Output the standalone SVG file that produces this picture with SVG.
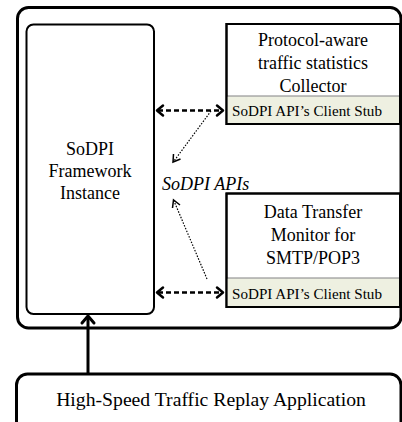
<svg xmlns="http://www.w3.org/2000/svg" width="402" height="422" viewBox="0 0 402 422">
<defs>
<style>
.t{font-family:"Liberation Serif","Times New Roman",serif;font-size:18px;fill:#000;text-anchor:middle}
.s{font-family:"Liberation Serif","Times New Roman",serif;font-size:15px;fill:#000}
.box{fill:#fff;stroke:#000;stroke-width:2}
.stub{fill:#eef0e1;stroke:none}
.div{stroke:#000;stroke-width:1;stroke-dasharray:1,1;fill:none}
.dash{stroke:#000;stroke-width:2.5;stroke-dasharray:5,3;fill:none}
.dot{stroke:#000;stroke-width:1.2;stroke-dasharray:1.5,1.5;fill:none}
.head{stroke:#000;stroke-width:2.5;fill:none;stroke-linecap:round;stroke-linejoin:round}
.shead{stroke:#000;stroke-width:1.5;fill:none}
</style>
</defs>
<rect width="402" height="422" fill="#fff"/>
<g id="outer">
<rect x="17.5" y="7.5" width="383.5" height="320.5" rx="11" fill="none" stroke="#000" stroke-width="3"/>
</g>
<g id="framework">
<rect x="26.5" y="24.5" width="127.5" height="289.5" rx="7" fill="#fff" stroke="#000" stroke-width="2"/>
<text class="t" x="90" y="155">SoDPI</text>
<text class="t" x="90" y="177">Framework</text>
<text class="t" x="90" y="199">Instance</text>
</g>
<g id="collector">
<rect class="box" x="226.5" y="24" width="173.5" height="100"/>
<rect class="stub" x="227.5" y="96.5" width="171.5" height="26.5"/>
<line class="div" x1="227.5" y1="96" x2="399" y2="96"/>
<rect fill="none" stroke="#000" stroke-width="2" x="226.5" y="24" width="173.5" height="100"/>
<text class="t" x="313" y="46">Protocol-aware</text>
<text class="t" x="313" y="69">traffic statistics</text>
<text class="t" x="313" y="92">Collector</text>
<text class="s" x="232" y="115.5" textLength="150" lengthAdjust="spacingAndGlyphs">SoDPI API’s Client Stub</text>
</g>
<g id="monitor">
<rect class="box" x="226.5" y="193.5" width="173.5" height="113.5"/>
<rect class="stub" x="227.5" y="278.5" width="171.5" height="27.5"/>
<line class="div" x1="227.5" y1="278" x2="399" y2="278"/>
<rect fill="none" stroke="#000" stroke-width="2" x="226.5" y="193.5" width="173.5" height="113.5"/>
<text class="t" x="313" y="218">Data Transfer</text>
<text class="t" x="313" y="241">Monitor for</text>
<text class="t" x="313" y="264">SMTP/POP3</text>
<text class="s" x="232" y="298.5" textLength="150" lengthAdjust="spacingAndGlyphs">SoDPI API’s Client Stub</text>
</g>
<g id="replay">
<rect x="16.5" y="374" width="384.5" height="60" rx="11" fill="#fff" stroke="#000" stroke-width="3"/>
<text class="t" x="211" y="406" style="font-size:19.7px">High-Speed Traffic Replay Application</text>
</g>
<g id="label">
<text x="162" y="190" style="font-family:'Liberation Serif','Times New Roman',serif;font-size:18px;font-style:italic">SoDPI APIs</text>
</g>
<g id="connectors">
<line class="dash" x1="158" y1="110.5" x2="222" y2="110.5"/>
<polyline class="head" points="163,105.5 157,110.5 163,115.5"/>
<polyline class="head" points="217,105.5 223,110.5 217,115.5"/>
<line class="dash" x1="158" y1="292.5" x2="222" y2="292.5"/>
<polyline class="head" points="163,287.5 157,292.5 163,297.5"/>
<polyline class="head" points="217,287.5 223,292.5 217,297.5"/>
<line class="dot" x1="211" y1="111" x2="174" y2="161"/>
<polyline class="shead" points="173.5,154 173,162 180.5,159"/>
<line class="dot" x1="207" y1="279" x2="174" y2="201"/>
<polyline class="shead" points="172.5,208 173.5,200 180,205"/>
<line x1="88" y1="373" x2="88" y2="317" stroke="#000" stroke-width="3"/>
<polyline class="head" points="82,323 88,316 94,323" style="stroke-width:3"/>
</g>
</svg>
